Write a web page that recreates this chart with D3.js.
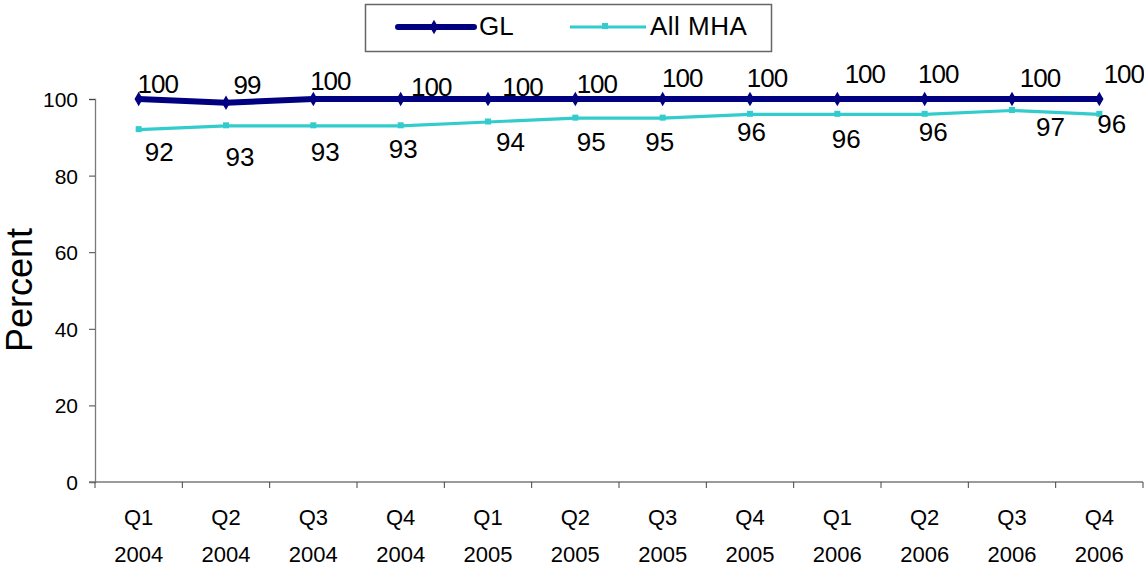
<!DOCTYPE html>
<html>
<head>
<meta charset="utf-8">
<script src="https://cdn.jsdelivr.net/npm/d3@7"></script>
<style>
  html, body { margin: 0; padding: 0; background: #fff; }
  svg { display: block; font-family: "Liberation Sans", Arial, sans-serif; }
</style>
</head>
<body>
<svg id="chart" width="1144" height="569"></svg>
<script>
// Quarterly percentages
const quarters = ["Q1", "Q2", "Q3", "Q4", "Q1", "Q2", "Q3", "Q4", "Q1", "Q2", "Q3", "Q4"];
const years = ["2004", "2004", "2004", "2004", "2005", "2005", "2005", "2005", "2006", "2006", "2006", "2006"];
const glValues = [100, 99, 100, 100, 100, 100, 100, 100, 100, 100, 100, 100];
const mhaValues = [92, 93, 93, 93, 94, 95, 95, 96, 96, 96, 97, 96];
const yTicks = [0, 20, 40, 60, 80, 100];
const seriesNames = ["GL", "All MHA"];

// Per-point nudges (px) of each data label's centre from its point
const glLabelOffset = [[19, -15], [21, -18], [17, -18.5], [30.5, -12.5], [34.5, -12], [21.5, -15],
  [19.5, -21.5], [17, -21.5], [27.5, -25], [13.5, -25], [28, -21], [24.5, -25]];
const mhaLabelOffset = [[20.5, 22], [14, 31], [12, 26], [2.5, 23], [22.5, 19.5], [16, 23.5],
  [-3, 23.5], [1.5, 17.5], [9, 24], [8.5, 17.5], [38.5, 16], [12.5, 9]];

const svg = d3.select("#chart");
const plot = { left: 95, right: 1143, top: 99, bottom: 482 };
const font = "Liberation Sans, Arial, sans-serif";

const cats = d3.range(quarters.length);
const x = d3.scaleBand().domain(cats).range([plot.left, plot.right]);
const y = d3.scaleLinear().domain([0, 100]).range([plot.bottom, plot.top]);
const cx = i => x(i) + x.bandwidth() / 2;

const axisColor = "#7a7a7a";
const txt = "#000";
const tickFs = 21, labelFs = 26;

// Y axis
const yAxis = svg.append("g").attr("transform", `translate(${plot.left},0)`)
  .call(d3.axisLeft(y).tickValues(yTicks).tickSize(6).tickPadding(11));
yAxis.attr("font-size", tickFs).attr("font-family", font);
yAxis.select(".domain").attr("stroke", axisColor).attr("stroke-width", 1.3);
yAxis.selectAll(".tick line").attr("stroke", "#444");
yAxis.selectAll(".tick text").attr("fill", txt).attr("dy", "0.36em");

// X axis with category boundary ticks
const xg = svg.append("g").attr("font-size", 22).attr("font-family", font);
xg.append("line").attr("x1", plot.left - 6).attr("x2", plot.right)
  .attr("y1", y(0)).attr("y2", y(0)).attr("stroke", axisColor).attr("stroke-width", 1.3);
xg.selectAll("line.b").data(d3.range(quarters.length + 1)).join("line")
  .attr("class", "b")
  .attr("x1", i => plot.left + i * x.bandwidth())
  .attr("x2", i => plot.left + i * x.bandwidth())
  .attr("y1", y(0)).attr("y2", y(0) + 6).attr("stroke", "#444");
xg.selectAll("text.q").data(cats).join("text")
  .attr("class", "q").attr("x", cx).attr("y", 525)
  .attr("text-anchor", "middle").attr("fill", txt)
  .text(i => quarters[i]);
xg.selectAll("text.yr").data(cats).join("text")
  .attr("class", "yr").attr("x", cx).attr("y", 562)
  .attr("text-anchor", "middle").attr("fill", txt)
  .text(i => years[i]);

// Y axis title
svg.append("text")
  .attr("transform", `translate(32,290) rotate(-90)`)
  .attr("text-anchor", "middle").attr("font-size", 36).attr("fill", txt)
  .text("Percent");

const line = d3.line().x((d, i) => cx(i)).y(d => y(d));

// All MHA series
svg.append("path").datum(mhaValues)
  .attr("d", line).attr("fill", "none")
  .attr("stroke", "#33CCCC").attr("stroke-width", 3.2);
svg.selectAll("rect.mha").data(mhaValues).join("rect")
  .attr("class", "mha")
  .attr("x", (d, i) => cx(i) - 3).attr("y", d => y(d) - 3.5)
  .attr("width", 6).attr("height", 6).attr("fill", "#33CCCC");

// GL series
svg.append("path").datum(glValues)
  .attr("d", line).attr("fill", "none")
  .attr("stroke", "#000080").attr("stroke-width", 6).attr("stroke-linejoin", "round");
svg.selectAll("path.gl").data(glValues).join("path")
  .attr("class", "gl")
  .attr("d", d3.symbol(d3.symbolDiamond, 60))
  .attr("transform", (d, i) => `translate(${cx(i)},${y(d)})`)
  .attr("fill", "#000080");

// Data labels (offsets give the text centre; shift to baseline for digits)
const toBase = 0.358 * labelFs;
svg.selectAll("text.gll").data(glValues).join("text")
  .attr("class", "gll")
  .attr("x", (d, i) => cx(i) + glLabelOffset[i][0])
  .attr("y", (d, i) => y(d) + glLabelOffset[i][1] + toBase)
  .attr("text-anchor", "middle")
  .attr("font-size", labelFs).attr("letter-spacing", -1).attr("fill", txt)
  .text(d => d);
svg.selectAll("text.mhal").data(mhaValues).join("text")
  .attr("class", "mhal")
  .attr("x", (d, i) => cx(i) + mhaLabelOffset[i][0])
  .attr("y", (d, i) => y(d) + mhaLabelOffset[i][1] + toBase)
  .attr("text-anchor", "middle")
  .attr("font-size", labelFs).attr("fill", txt)
  .text(d => d);

// Legend
const lg = svg.append("g");
lg.append("rect").attr("x", 365.5).attr("y", 4.5).attr("width", 406).attr("height", 47)
  .attr("fill", "#fff").attr("stroke", "#666").attr("stroke-width", 1.5);
lg.append("line").attr("x1", 398).attr("x2", 474).attr("y1", 27).attr("y2", 27)
  .attr("stroke", "#000080").attr("stroke-width", 6).attr("stroke-linecap", "round");
lg.append("path").attr("d", d3.symbol(d3.symbolDiamond, 60))
  .attr("transform", "translate(434,27)").attr("fill", "#000080");
lg.append("text").attr("x", 479).attr("y", 34.5)
  .attr("font-size", labelFs).attr("fill", txt).text(seriesNames[0]);
lg.append("line").attr("x1", 570).attr("x2", 646).attr("y1", 27).attr("y2", 27)
  .attr("stroke", "#33CCCC").attr("stroke-width", 3.2);
lg.append("rect").attr("x", 602).attr("y", 23).attr("width", 6).attr("height", 6).attr("fill", "#33CCCC");
lg.append("text").attr("x", 650).attr("y", 34.5)
  .attr("font-size", labelFs).attr("letter-spacing", 0.5).attr("fill", txt).text(seriesNames[1]);
</script>
</body>
</html>
